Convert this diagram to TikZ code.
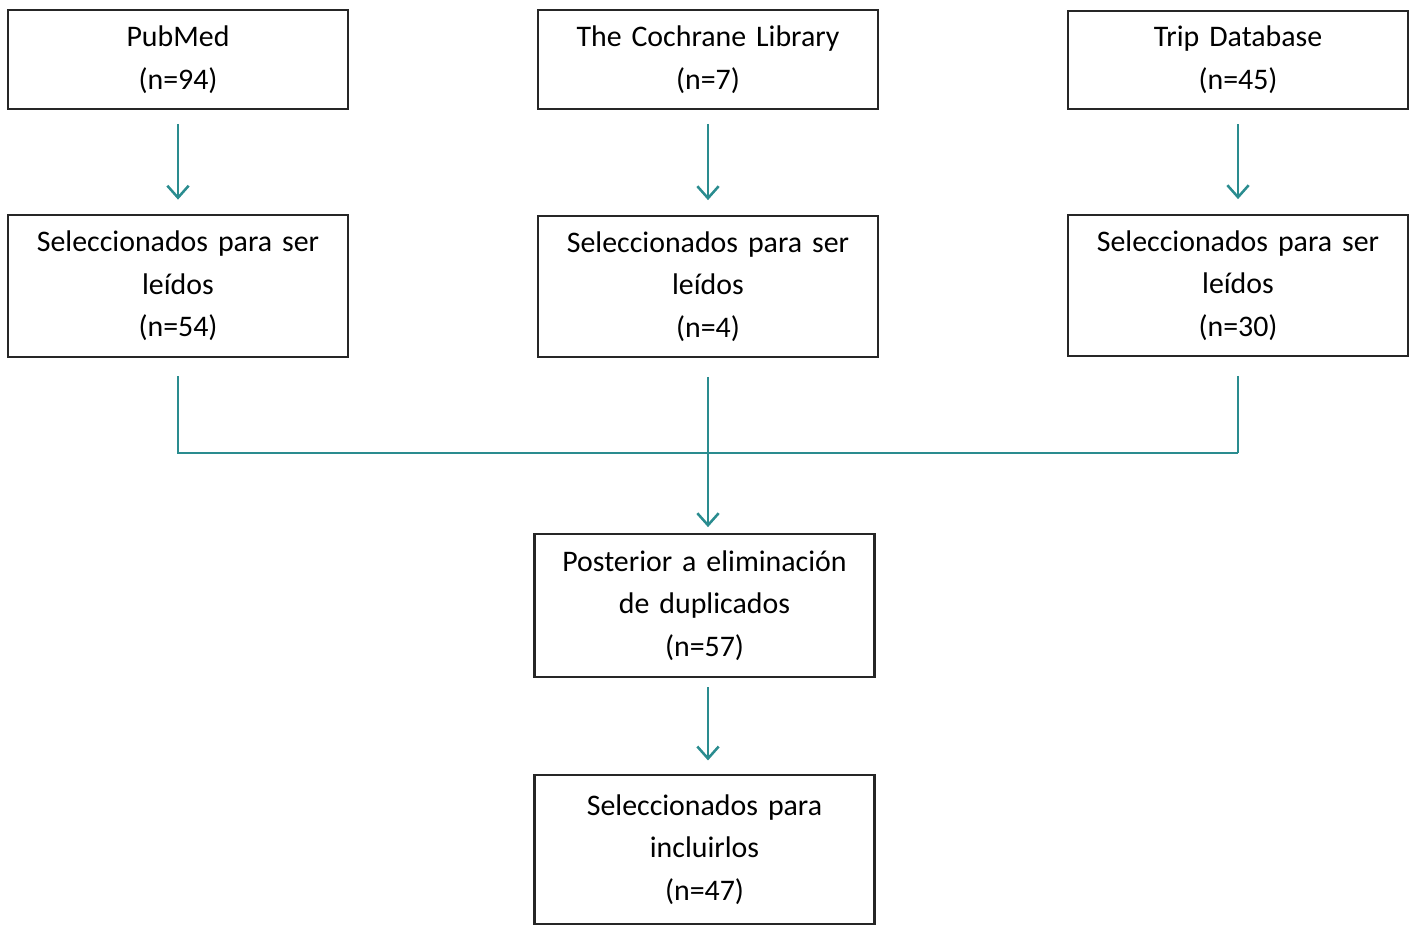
\documentclass[tikz,border=0pt]{standalone}
\usepackage{fontspec}
\setmainfont{Carlito}
\usetikzlibrary{arrows.meta}
\definecolor{tealline}{HTML}{2A8C8F}
\tikzset{
  box/.style={draw=black!85, line width=1.6pt, align=center, text width=245pt,
    minimum width=255pt, inner sep=0pt,
    font=\fontsize{22.4}{32}\selectfont},
  link/.style={draw=tealline, line width=1.9pt},
  flow/.style={link, -{Straight Barb[length=9pt,width=16pt,line width=1.9pt]},
    shorten <=10.5pt, shorten >=11pt}
}
\begin{document}
\begin{tikzpicture}[x=0.75pt,y=-0.75pt]
    \useasboundingbox (0,0) rectangle (1410,926);
    % Nodes
    \node[box, minimum height=74pt] (pubmed) at (178,59.5) {PubMed\\(n=94)};
    \node[box, minimum height=74pt] (cochrane) at (708,59.5) {The Cochrane Library\\(n=7)};
    \node[box, minimum height=74pt] (trip) at (1238,60) {Trip Database\\(n=45)};
    \node[box, minimum height=106pt] (pubmedsel) at (178,286) {Seleccionados para ser\\leídos\\(n=54)};
    \node[box, minimum height=106pt] (cochranesel) at (708,286.5) {Seleccionados para ser\\leídos\\(n=4)};
    \node[box, minimum height=106pt] (tripsel) at (1238,285.5) {Seleccionados para ser\\leídos\\(n=30)};
    \node[box, minimum height=107pt] (post) at (704.5,605.5) {Posterior a eliminación\\de duplicados\\(n=57)};
    \node[box, minimum height=112pt] (final) at (704.5,849.5) {Seleccionados para\\incluirlos\\(n=47)};
    \coordinate (joinleft) at (178,453);
    \coordinate (joinright) at (1238,453);

    % Arrows
    \draw[flow] (pubmed) -- (pubmedsel);
    \draw[flow] (cochrane) -- (cochranesel);
    \draw[flow] (trip) -- (tripsel);
    \draw[link, shorten <=14pt] (pubmedsel.south) -- (joinleft) -- (joinright);
    \draw[link, shorten <=14pt] (tripsel.south) -- (joinright);
    \draw[flow, shorten <=14pt, shorten >=4.5pt] (cochranesel.south) -- (cochranesel.south |- post.north);
    \draw[flow, shorten <=7pt, shorten >=10pt] (post.south -| cochranesel.south) -- (cochranesel.south |- final.north);
\end{tikzpicture}
\end{document}
